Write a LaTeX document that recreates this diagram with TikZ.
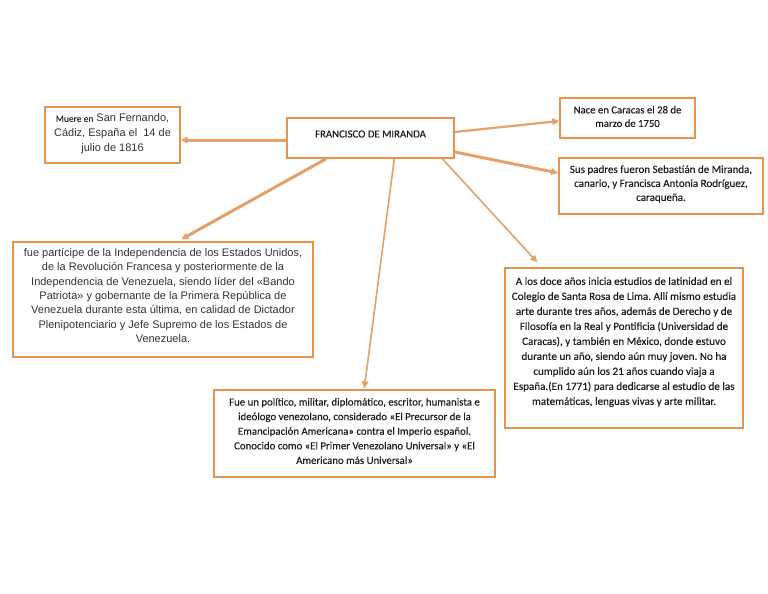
\documentclass[tikz,border=0pt]{standalone}
\usepackage{fontspec}
\setmainfont{Carlito}[FakeBold=0.3]
\newfontfamily\arialf{Liberation Sans}
\usetikzlibrary{arrows.meta,calc}
\frenchspacing
\definecolor{boxor}{HTML}{E8924C}
\definecolor{linkor}{HTML}{E6A16A}
\definecolor{txt}{HTML}{1E1E1E}
\definecolor{txtg}{HTML}{333333}
\tikzset{
  cbox/.style={draw=boxor, line width=1.4pt, fill=white, inner sep=0pt},
  ctext/.style={align=center, inner sep=0pt, text=txt},
  link/.style={draw=linkor, -{Triangle[length=7pt,width=6.5pt]}},
  thicklink/.style={link, line width=3pt},
  midlink/.style={link, line width=2.2pt},
  thinlink/.style={link, line width=1.6pt},
}
\begin{document}
\begin{tikzpicture}[x=1pt,y=-1pt]
\useasboundingbox[fill=white] (0,0) rectangle (768,594);

% boxes
\node[cbox, minimum width=167pt, minimum height=40pt] (c) at (370.5,138) {};
\node[cbox, minimum width=135pt, minimum height=56pt] (m) at (112.5,135) {};
\node[cbox, minimum width=135pt, minimum height=40pt] (n) at (627.5,118) {};
\node[cbox, minimum width=204pt, minimum height=56pt] (s) at (661,186) {};
\node[cbox, minimum width=300pt, minimum height=115pt] (f) at (163,299.5) {};
\node[cbox, minimum width=238pt, minimum height=160pt] (a) at (624,348) {};
\node[cbox, minimum width=281pt, minimum height=87pt] (p) at (354.5,433.5) {};

% texts
\node[ctext, font=\fontsize{10.8}{13}\selectfont] (ct) at ($(c.center)+(0,-4)$) {FRANCISCO DE MIRANDA};

\node[ctext, text=txtg, font=\arialf\fontsize{11}{15}\selectfont] (mt) at ($(m.center)+(0,-1)$)
  {{\rmfamily\fontsize{9.5}{15}\selectfont Muere en} San Fernando,\\C\'adiz, Espa\~na el\ \ 14 de\\julio de 1816};

\node[ctext, font=\fontsize{10.7}{13.5}\selectfont] (nt) at ($(n.center)+(0,-1.5)$)
  {Nace en Caracas el 28 de\\marzo de 1750};

\node[ctext, font=\fontsize{11}{14}\selectfont] (st) at ($(s.center)+(0,-2)$)
  {Sus padres fueron Sebasti\'an de Miranda,\\canario, y Francisca Antonia Rodr\'iguez,\\caraque\~na.};

\node[ctext, text=txtg, font=\arialf\fontsize{11}{14.4}\selectfont] (ft) at ($(f.center)+(0,-4)$)
  {fue part\'icipe de la Independencia de los Estados Unidos,\\de la Revoluci\'on Francesa y posteriormente de la\\Independencia de Venezuela, siendo l\'ider del «Bando\\Patriota» y gobernante de la Primera Rep\'ublica de\\Venezuela durante esta \'ultima, en calidad de Dictador\\Plenipotenciario y Jefe Supremo de los Estados de\\Venezuela.};

\node[ctext, font=\fontsize{11.1}{15}\selectfont] (at) at ($(a.center)+(0,-6)$)
  {A los doce a\~nos inicia estudios de latinidad en el\\Colegio de Santa Rosa de Lima. All\'i mismo estudia\\arte durante tres a\~nos, adem\'as de Derecho y de\\Filosof\'ia en la Real y Pontificia (Universidad de\\Caracas), y tambi\'en en M\'exico, donde estuvo\\durante un a\~no, siendo a\'un muy joven. No ha\\cumplido a\'un los 21 a\~nos cuando viaja a\\Espa\~na.(En 1771) para dedicarse al estudio de las\\matem\'aticas, lenguas vivas y arte militar.};

\node[ctext, font=\fontsize{10.8}{14.6}\selectfont] (pt) at ($(p.center)+(0,-2.5)$)
  {Fue un pol\'itico, militar, diplom\'atico, escritor, humanista e\\ide\'ologo venezolano, considerado «El Precursor de la\\Emancipaci\'on Americana» contra el Imperio espa\~nol.\\Conocido como «El Primer Venezolano Universal» y «El\\Americano m\'as Universal»};

% connectors
\draw[thicklink] ($(c.west)+(0,2)$) -- ($(m.east)+(0,5)$);
\draw[midlink] ($(c.east)+(0,-6)$) -- ($(n.west)+(0,3)$);
\draw[thicklink] ($(c.east)+(0,14)$) -- ($(s.west)+(0,-13)$);
\draw[thicklink] ($(c.south west)+(40,0)$) -- ($(f.north west)+(169,-2)$);
\draw[thinlink] ($(c.south west)+(108,0)$) -- ($(p.north west)+(151,-1)$);
\draw[thinlink] ($(c.south west)+(156,0)$) -- ($(a.north west)+(33,-5)$);
\end{tikzpicture}
\end{document}
